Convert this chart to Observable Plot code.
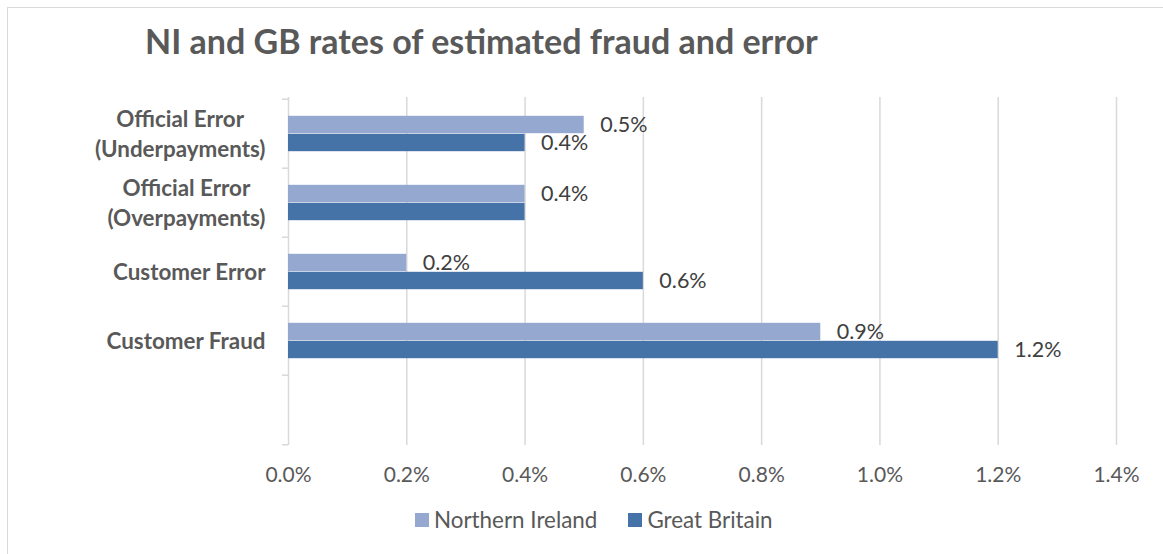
<!DOCTYPE html>
<html>
<head>
<meta charset="utf-8">
<script src="https://cdn.jsdelivr.net/npm/d3@7"></script>
<script src="https://cdn.jsdelivr.net/npm/@observablehq/plot@0.6"></script>
<style>
  body { margin: 0; background: #fff; font-family: Lato, sans-serif; }
  #wrap { position: relative; width: 1163px; height: 554px; overflow: hidden; background: #fff; }
  #frame { position: absolute; left: 7px; top: 7px; width: 1170px; height: 560px;
           border-top: 1px solid #d9d9d9; border-left: 1px solid #d9d9d9; }
  #title { position: absolute; left: 145px; top: 24px; font-size: 34px; line-height: 34px;
           font-weight: 700; color: #595959; white-space: nowrap; }
  #chart { position: absolute; left: 0; top: 85px; }
  #legend { position: absolute; left: 415px; top: 510px; display: flex; align-items: center;
            font-size: 22.4px; line-height: 20px; color: #595959; white-space: nowrap; }
  #legend .item { display: flex; align-items: center; }
  #legend .sw { width: 14px; height: 14px; margin-right: 5px; }
  #legend .item + .item { margin-left: 31px; }
  #chart g[aria-label="y-axis tick label"] text { font-weight: 700; }
</style>
</head>
<body>
<div id="wrap">
  <div id="frame"></div>
  <div id="title">NI and GB rates of estimated fraud and error</div>
  <div id="chart"></div>
  <div id="legend"></div>
</div>
<script>
// ---- data ----
const categories = [
  "Official Error\n(Underpayments)",
  "Official Error\n(Overpayments)",
  "Customer Error",
  "Customer Fraud",
  ""               // empty category row present in the original chart
];
const seriesNames = ["Northern Ireland", "Great Britain"];
const seriesColors = ["#95a9d0", "#4573a8"];
const niValues = [0.5, 0.4, 0.2, 0.9];
const gbValues = [0.4, 0.4, 0.6, 1.2];
const niLabels = ["0.5%", "0.4%", "0.2%", "0.9%"];
const gbLabels = ["0.4%", "", "0.6%", "1.2%"];
const xTicks = [0, 0.2, 0.4, 0.6, 0.8, 1.0, 1.2, 1.4];
const xTickLabels = ["0.0%", "0.2%", "0.4%", "0.6%", "0.8%", "1.0%", "1.2%", "1.4%"];

// ---- build table ----
const rows = niValues.map((v, i) => ({
  cat: categories[i], ni: v, gb: gbValues[i], niLabel: niLabels[i], gbLabel: gbLabels[i]
}));

// ---- layout ----
const W = 1163, H = 420, mT = 12, mB = 60, mL = 288, mR = 47;
const bw = (H - mT - mB) / categories.length;
const barH = 18;
const padTop = (bw - 2 * barH) / 2;
const grid = "#d9d9d9";

const chart = Plot.plot({
  width: W, height: H,
  marginTop: mT, marginBottom: mB, marginLeft: mL, marginRight: mR,
  style: { fontFamily: "Lato", fontSize: "21px", color: "#595959", background: "transparent", overflow: "visible" },
  x: { domain: [0, 1.4], axis: null },
  y: { domain: categories, padding: 0, axis: null },
  marks: [
    Plot.ruleX(xTicks, { x: d => d, stroke: grid, strokeWidth: 1.5 }),
    Plot.ruleY(categories, { y: d => d, x1: 0, x2: 0, insetLeft: -6, dy: -bw / 2, stroke: grid, strokeWidth: 1.5 }),
    Plot.ruleY(categories.slice(-1), { y: d => d, x1: 0, x2: 0, insetLeft: -6, dy: bw / 2, stroke: grid, strokeWidth: 1.5 }),
    Plot.barX(rows, { x: "ni", y: "cat", fill: seriesColors[0], insetTop: padTop, insetBottom: bw - padTop - barH }),
    Plot.barX(rows, { x: "gb", y: "cat", fill: seriesColors[1], insetTop: padTop + barH, insetBottom: padTop }),
    Plot.text(rows, { x: "ni", y: "cat", text: "niLabel", dx: 16, dy: padTop + barH / 2 - bw / 2,
      textAnchor: "start", fill: "#404040", fontSize: 21.5 }),
    Plot.text(rows, { x: "gb", y: "cat", text: "gbLabel", dx: 16, dy: padTop + barH * 1.5 - bw / 2,
      textAnchor: "start", fill: "#404040", fontSize: 21.5 }),
    Plot.axisY({ tickSize: 0, tickPadding: 23, fontSize: 22.4, lineHeight: 1.35, dy: -2, label: null, tickFormat: d => d }),
    Plot.axisX({ ticks: xTicks, tickFormat: d => xTickLabels[xTicks.indexOf(d)], tickSize: 0, tickPadding: 22, fontSize: 21, label: null })
  ]
});
document.getElementById("chart").appendChild(chart);

// centre the lines of multi-line category labels within their block (as in the original)
chart.querySelectorAll('g[aria-label="y-axis tick label"] text').forEach(t => {
  const spans = t.querySelectorAll("tspan");
  if (spans.length > 1) {
    let w = 0;
    spans.forEach(s => { w = Math.max(w, s.getComputedTextLength()); });
    t.setAttribute("text-anchor", "middle");
    spans.forEach(s => s.setAttribute("x", -w / 2));
  }
});

// ---- legend ----
const legend = document.getElementById("legend");
seriesNames.forEach((name, i) => {
  const item = document.createElement("div");
  item.className = "item";
  const sw = document.createElement("div");
  sw.className = "sw";
  sw.style.background = seriesColors[i];
  const lab = document.createElement("span");
  lab.textContent = name;
  item.appendChild(sw); item.appendChild(lab);
  legend.appendChild(item);
});
</script>
</body>
</html>
